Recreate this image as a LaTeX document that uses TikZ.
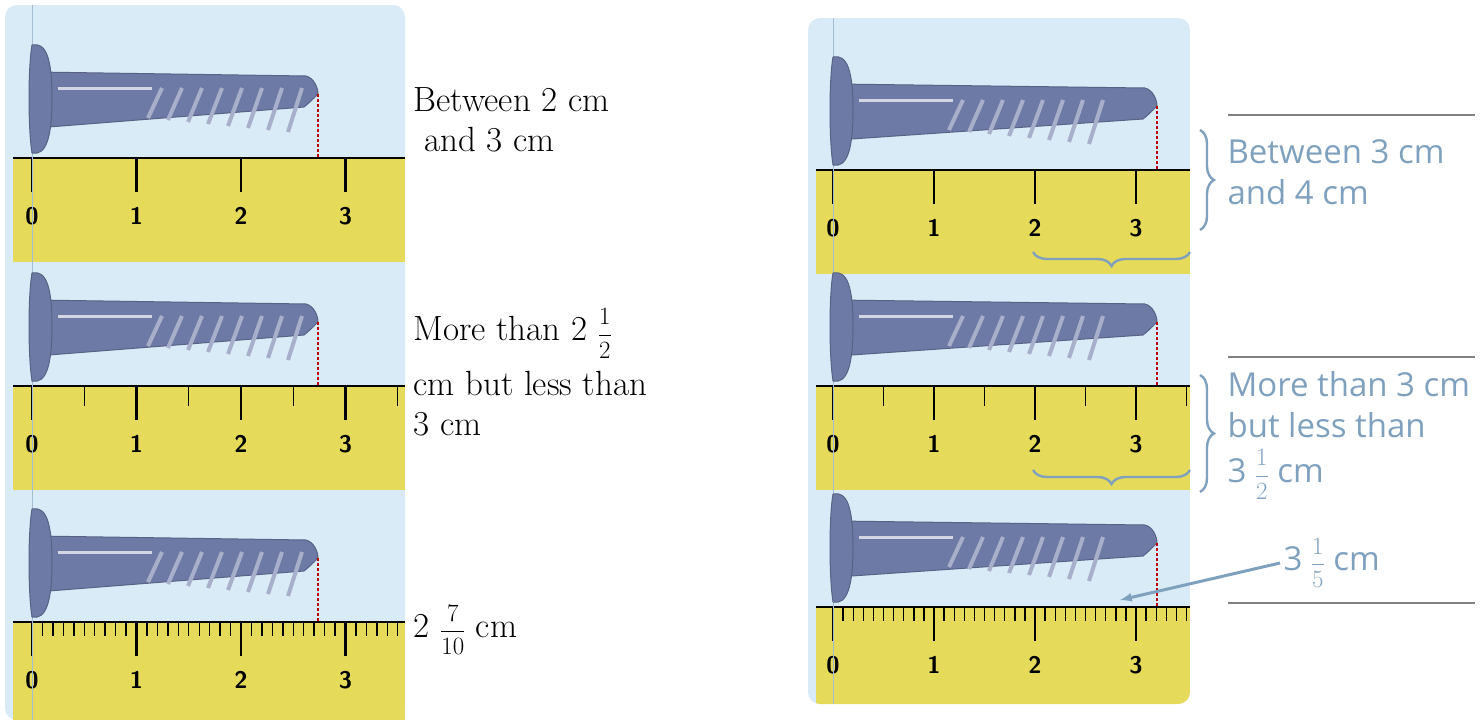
\documentclass[tikz,border=0pt]{standalone}
\usepackage{fontspec}
\newfontfamily\notesfont{Open Sans}
\usetikzlibrary{decorations.pathreplacing, calligraphy}
\definecolor{skyback}{HTML}{D9EBF7}
\definecolor{rulerfill}{HTML}{E6DA5A}
\definecolor{nailblue}{HTML}{6E7AA6}
\definecolor{noteblue}{HTML}{7FA1BE}
\tikzset{
  panel/.style={fill=skyback, rounded corners=12pt},
  nailbody/.style={fill=nailblue, draw=nailblue!80!black, line width=1pt},
  tipline/.style={red!75!black, densely dashed, line width=1.6pt},
  tick/.style={line width=2.4pt},
  digit/.style={font=\sffamily\bfseries\fontsize{24}{24}\selectfont},
  answer/.style={font=\fontsize{35}{40}\selectfont, anchor=west, align=left},
  note/.style={font=\notesfont\fontsize{33}{41}\selectfont, text=noteblue, anchor=west, align=left},
  notebrace/.style={decorate, decoration={brace, amplitude=14pt}, noteblue, line width=2.4pt},
  rule/.style={gray, line width=1.2pt}
}
% nail: #1 x of zero mark, #2 y of ruler edge, #3 length in px
\newcommand{\nail}[3]{
  \begin{scope}[shift={(#1,#2)}]
    \fill[nailbody] (4,-86) -- (#3-12,-82) .. controls (#3-4,-80) and (#3,-70) .. (#3,-64)
      .. controls (#3-8,-56) .. (#3-14,-51) -- (4,-30) -- cycle;
    \fill[nailbody] (0,-113) .. controls (14,-116) and (20,-100) .. (20,-60)
      .. controls (20,-20) and (14,-2) .. (0,-5) .. controls (-4,-30) and (-4,-90) .. (0,-113) -- cycle;
    \draw[white!70!nailblue, line width=3pt] (26,-70) -- (120,-70);
    \foreach \k in {0,...,7}
      \draw[white!40!nailblue, line width=4pt] (130+\k*20,-70) -- (116+\k*20,-40+\k*2);
    \draw[tipline] (#3,-64) -- (#3,0);
  \end{scope}
}
% ruler: #1 x of zero, #2 y of edge, #3 unit, #4 left, #5 right, #6 minor steps, #7 minor count, #8 minor length
\newcommand{\ruler}[8]{
  \fill[rulerfill] (#4,#2) rectangle (#5,#2+104);
  \draw[line width=2.4pt] (#4,#2) -- (#5,#2);
  \foreach \u in {0,...,3} {
    \draw[tick] (#1+\u*#3,#2) -- ++(0,34);
    \node[digit] at (#1+\u*#3,#2+58) {\u};
  }
  \foreach \m in {1,...,#7}
    \draw[line width=1.4pt] (#1+\m*#3/#6,#2) -- ++(0,#8);
}
\begin{document}
\begin{tikzpicture}[x=1pt, y=-1pt]
  \useasboundingbox (0,0) rectangle (1481,720);
  % left panel
  \fill[panel] (5,5) rectangle (405,720);
  \ruler{32}{158}{104.5}{13}{405}{1}{3}{34}
  \ruler{32}{386}{104.5}{13}{405}{2}{7}{20}
  \ruler{32}{622}{104.5}{13}{405}{10}{35}{14}
  \draw[noteblue!70, line width=0.8pt] (32,5) -- (32,720);
  \nail{32}{158}{286}
  \nail{32}{386}{286}
  \nail{32}{622}{286}
  \node[answer] (q1) at (410,120) {Between 2 cm\\\ and 3 cm};
  \node[answer] (q2) at (410,372) {More than 2 $\displaystyle\frac{1}{2}$\\[12pt]cm but less than\\3 cm};
  \node[answer] (q3) at (410,630) {2 $\displaystyle\frac{7}{10}$ cm};
  % right panel
  \begin{scope}
    \clip[rounded corners=12pt] (808,18) rectangle (1190,704);
    \fill[skyback] (808,18) rectangle (1190,704);
    \ruler{833}{170}{101}{816}{1190}{1}{3}{34}
    \ruler{833}{386}{101}{816}{1190}{2}{7}{20}
    \ruler{833}{607}{101}{816}{1190}{10}{35}{14}
  \end{scope}
  \draw[noteblue!70, line width=0.8pt] (833,18) -- (833,704);
  \nail{833}{170}{324}
  \nail{833}{386}{324}
  \nail{833}{607}{324}
  % notes
  \draw[rule] (1228,115) -- (1475,115);
  \draw[rule] (1228,357) -- (1475,357);
  \draw[rule] (1228,603) -- (1475,603);
  \draw[notebrace] (1200,130) -- (1200,230);
  \draw[notebrace] (1190,252) -- (1033,252);
  \draw[notebrace] (1200,375) -- (1200,492);
  \draw[notebrace] (1190,470) -- (1033,470);
  \node[note] (a1) at (1224,172) {Between 3 cm\\and 4 cm};
  \node[note] (a2) at (1224,435) {More than 3 cm\\but less than\\[4pt]3 $\displaystyle\frac{1}{2}$ cm};
  \node[note] (a3) at (1280,563) {3 $\displaystyle\frac{1}{5}$ cm};
  \coordinate (tip) at (1120,600);
  \draw[noteblue, line width=3pt, -latex] (a3.west) -- (tip);
\end{tikzpicture}
\end{document}
